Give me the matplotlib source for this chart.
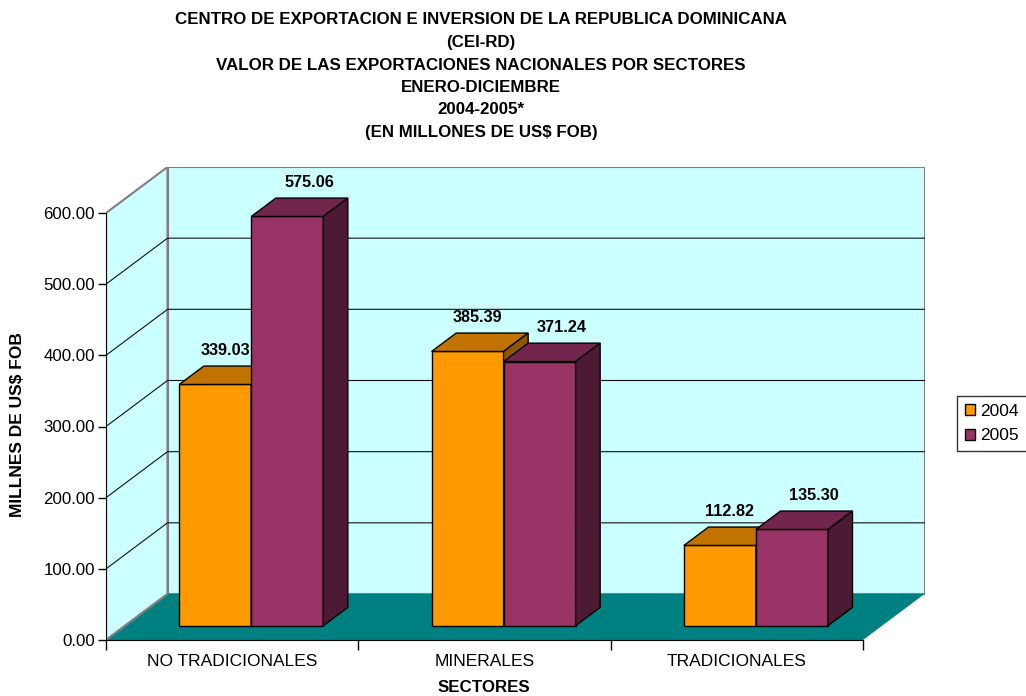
import matplotlib
matplotlib.use("Agg")
import matplotlib.pyplot as plt
from matplotlib.patches import Polygon, Patch

# ---- data ----
categories = ["NO TRADICIONALES", "MINERALES", "TRADICIONALES"]
series_names = ["2004", "2005"]
values_2004 = [339.03, 385.39, 112.82]
values_2005 = [575.06, 371.24, 135.30]
yticks = [0, 100, 200, 300, 400, 500, 600]
title_lines = [
    "CENTRO DE EXPORTACION E INVERSION DE LA REPUBLICA DOMINICANA",
    "(CEI-RD)",
    "VALOR DE LAS EXPORTACIONES NACIONALES POR SECTORES",
    "ENERO-DICIEMBRE",
    "2004-2005*",
    "(EN MILLONES DE US$ FOB)",
]
ylabel = "MILLNES DE US$ FOB"
xlabel = "SECTORES"

# ---- style ----
FONT = "Liberation Sans"
plt.rcParams["font.family"] = [FONT, "DejaVu Sans"]
W, H = 1026, 696
fig = plt.figure(figsize=(W / 100, H / 100), dpi=100)

face = {"2004": "#FF9900", "2005": "#993366"}
top_c = {"2004": "#C07300", "2005": "#73264D"}
side_c = {"2004": "#8F5600", "2005": "#4D1A33"}
WALL = "#CCFFFF"
FLOOR = "#008080"
BORDER = "#808080"

# geometry (pixels)
x0_px, y0_px = 106, 640
PX_CAT = (863 - 106) / 3.0
YMAX = 600
PX_VAL = (640 - 213) / YMAX
DX = 61.5 / PX_CAT          # depth in category units
DY = 46.0 / PX_VAL          # depth in value units
ncat = len(categories)
xmax = ncat + DX
ymax = YMAX + DY
ax_w = xmax * PX_CAT
ax_h = ymax * PX_VAL
ax = fig.add_axes([x0_px / W, 1 - y0_px / H, ax_w / W, ax_h / H])
ax.set_xlim(0, xmax)
ax.set_ylim(0, ymax)
ax.set_facecolor("none")

# walls and floor
ax.add_patch(Polygon([(0, 0), (0, YMAX), (DX, YMAX + DY), (DX, DY)], closed=True,
                     facecolor=WALL, edgecolor=BORDER, lw=1.5, zorder=0))
ax.add_patch(Polygon([(DX, DY), (DX, YMAX + DY), (ncat + DX, YMAX + DY), (ncat + DX, DY)],
                     closed=True, facecolor=WALL, edgecolor=BORDER, lw=1.5, zorder=0))
ax.add_patch(Polygon([(0, 0), (ncat, 0), (ncat + DX, DY), (DX, DY)], closed=True,
                     facecolor=FLOOR, edgecolor="none", zorder=1))
ax.plot([0, DX], [0, DY], color=BORDER, lw=1.5, zorder=1.5, solid_capstyle="butt")
for v in yticks[1:-1]:
    ax.plot([0, DX, ncat + DX], [v, v + DY, v + DY], color="#111111", lw=0.8, zorder=1)

# bars
bw = 72 / PX_CAT
f0, fd = 0.31, 0.40
offx, offy = f0 * DX, f0 * DY
ddx, ddy = fd * DX, fd * DY
gap = (1 - 2 * bw) / 2
label_off = {"2004": (10, 34), "2005": (22, 34)}
for si, (name, vals) in enumerate(zip(series_names, [values_2004, values_2005])):
    lefts = [i + gap + si * bw + offx for i in range(ncat)]
    ax.bar(lefts, vals, width=bw, bottom=offy, align="edge", color=face[name],
           edgecolor="black", lw=1.0, zorder=3 + si)
    for xl, v in zip(lefts, vals):
        top = offy + v
        ax.add_patch(Polygon([(xl, top), (xl + bw, top), (xl + bw + ddx, top + ddy), (xl + ddx, top + ddy)],
                             closed=True, facecolor=top_c[name], edgecolor="black", lw=1.0, zorder=3 + si))
        ax.add_patch(Polygon([(xl + bw, offy), (xl + bw, top), (xl + bw + ddx, top + ddy), (xl + bw + ddx, offy + ddy)],
                             closed=True, facecolor=side_c[name], edgecolor="black", lw=1.0, zorder=3 + si))
        ax.annotate(f"{v:.2f}", xy=(xl + bw / 2, top), xytext=label_off[name],
                    textcoords="offset pixels", ha="center", va="center",
                    fontsize=11.7, fontweight="bold", zorder=10)

# axes: spines / ticks
for s in ["top", "right"]:
    ax.spines[s].set_visible(False)
ax.spines["left"].set_bounds(0, YMAX)
ax.spines["bottom"].set_bounds(0, ncat)
ax.spines["left"].set_zorder(6)
ax.spines["bottom"].set_zorder(6)
ax.set_yticks(yticks)
ax.set_yticklabels([f"{t:.2f}" for t in yticks], fontsize=12.2)
ax.tick_params(axis="y", direction="out", length=6, width=1, pad=2)
ax.set_xticks(range(ncat + 1))
ax.set_xticklabels([""] * (ncat + 1))
ax.tick_params(axis="x", which="major", direction="out", length=7, width=1)
ax.set_xticks([i + 0.5 for i in range(ncat)], minor=True)
ax.set_xticklabels(categories, minor=True, fontsize=12.5)
ax.tick_params(axis="x", which="minor", length=0, pad=10)

# titles
ys = [20, 43, 66, 88, 110, 132]
for t, y in zip(title_lines, ys):
    fig.text(481 / W, 1 - y / H, t, ha="center", va="center", fontsize=12.2, fontweight="bold")
fig.text(18 / W, 1 - 425 / H, ylabel, rotation=90, ha="center", va="center",
         fontsize=12.5, fontweight="bold")
fig.text(484 / W, 1 - 688 / H, xlabel, ha="center", va="center", fontsize=12.2, fontweight="bold")

# legend
handles = [Patch(facecolor=face[n], edgecolor="black", lw=1) for n in series_names]
leg = fig.legend(handles, series_names, loc="upper left",
                 bbox_to_anchor=(957 / W, 1 - 396 / H), fontsize=12.5, frameon=True,
                 fancybox=False, edgecolor="black", borderpad=0.45, handlelength=0.6,
                 handleheight=0.6, handletextpad=0.3, labelspacing=0.55, borderaxespad=0)
leg.get_frame().set_linewidth(1.0)

fig.savefig("out.png", dpi=100)
